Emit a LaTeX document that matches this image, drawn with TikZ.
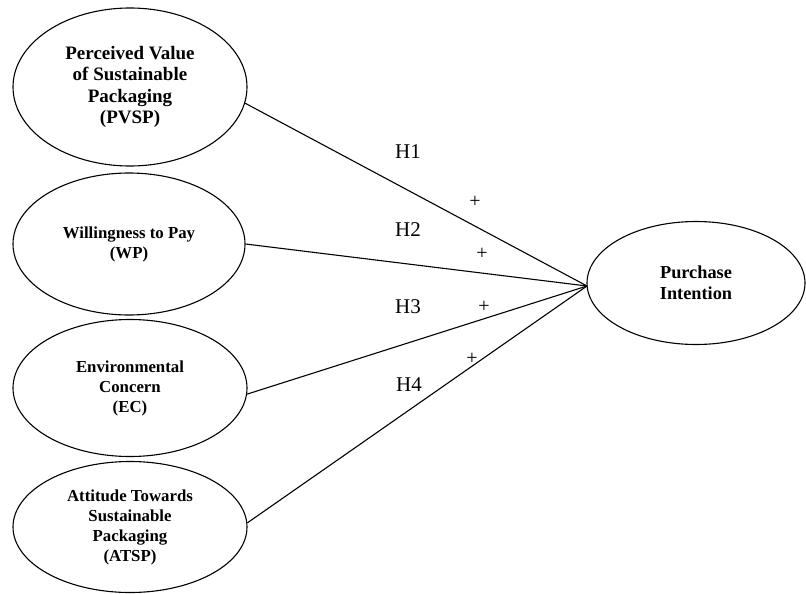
\documentclass[tikz,border=0pt]{standalone}
\usepackage{fontspec}
\setmainfont{Liberation Serif}
\usetikzlibrary{shapes.geometric}
\begin{document}
\begin{tikzpicture}[x=1pt,y=-1pt,
  construct/.style={draw, ellipse, line width=1.1pt, inner sep=0pt, align=center,
    font=\bfseries\fontsize{16.8}{20}\selectfont},
  link/.style={line width=1.1pt},
  hlabel/.style={font=\fontsize{21}{24}\selectfont, inner sep=0pt},
  sign/.style={font=\fontsize{20}{24}\selectfont, inner sep=0pt},
]
\useasboundingbox (0,0) rectangle (806,594);
\node[construct, minimum width=234pt, minimum height=158pt,
  font=\bfseries\fontsize{19}{21.5}\selectfont] (pvsp) at (130,87)
  {Perceived Value\\of Sustainable\\Packaging\\(PVSP)};
\node[construct, minimum width=232pt, minimum height=142pt] (wp) at (129,244)
  {Willingness to Pay\\(WP)};
\node[construct, minimum width=234pt, minimum height=137pt] (ec) at (130,388)
  {Environmental\\Concern\\(EC)};
\node[construct, minimum width=234pt, minimum height=131pt] (atsp) at (130,527)
  {Attitude Towards\\Sustainable\\Packaging\\(ATSP)};
\node[construct, minimum width=218pt, minimum height=123pt,
  font=\bfseries\fontsize{18.3}{21}\selectfont] (pi) at (696,283)
  {Purchase\\Intention};

\coordinate (hub) at (587,286);
\draw[link] (pvsp.-8) -- (hub);
\draw[link] (wp.east) -- (hub);
\draw[link] (ec.-3) -- (hub);
\draw[link] (atsp.2) -- (hub);

\node[hlabel] (h1) at (408,152) {H1};
\node[hlabel] (h2) at (408,230) {H2};
\node[hlabel] (h3) at (408,307) {H3};
\node[hlabel] (h4) at (409,385) {H4};

\node[sign] (p1) at (475,202) {+};
\node[sign] (p2) at (482,254) {+};
\node[sign] (p3) at (484,307) {+};
\node[sign] (p4) at (472,359) {+};
\end{tikzpicture}
\end{document}
